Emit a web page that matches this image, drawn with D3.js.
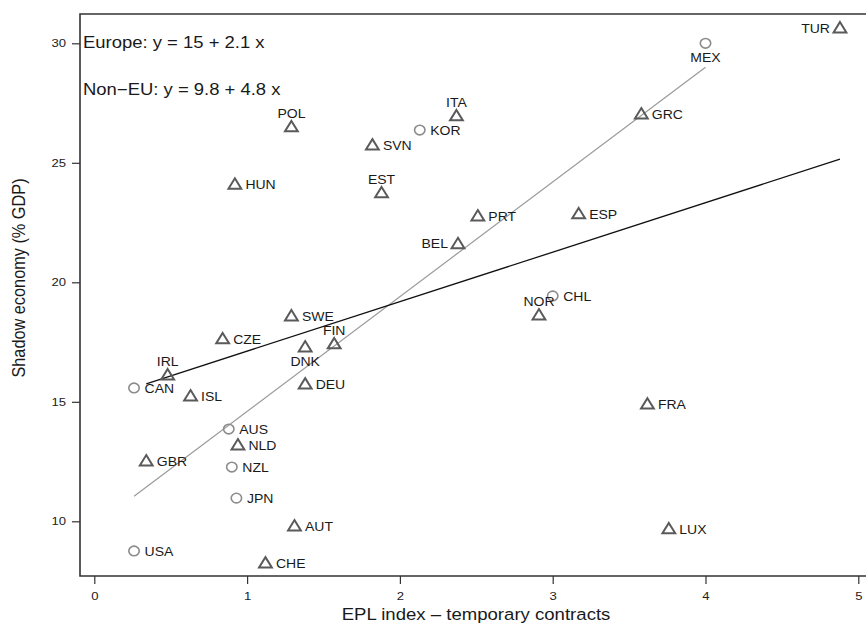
<!DOCTYPE html>
<html>
<head>
<meta charset="utf-8">
<title>Shadow economy vs EPL index</title>
<script src="https://d3js.org/d3.v7.min.js"></script>
<style>
  body { margin: 0; background: #fff; }
  svg { font-family: "Liberation Sans", Arial, sans-serif; }
</style>
</head>
<body>
<div id="chart"></div>
<script>
// data
var countries = ["TUR","MEX","ITA","KOR","POL","SVN","GRC","HUN","EST","PRT","ESP","BEL",
                 "CHL","NOR","SWE","CZE","FIN","DNK","IRL","CAN","DEU","ISL","FRA","AUS",
                 "NLD","GBR","NZL","JPN","AUT","LUX","USA","CHE"];
var eplIndex = [4.88,4.00,2.37,2.13,1.29,1.82,3.58,0.92,1.88,2.51,3.17,2.38,
                3.00,2.91,1.29,0.84,1.57,1.38,0.48,0.26,1.38,0.63,3.62,0.88,
                0.94,0.34,0.90,0.93,1.31,3.76,0.26,1.12];
var shadowEconomy = [30.64,30.0,26.96,26.37,26.5,25.74,27.04,24.1,23.74,22.77,22.86,21.61,
                     19.43,18.63,18.59,17.63,17.42,17.29,16.12,15.58,15.74,15.24,14.9,13.86,
                     13.19,12.52,12.27,10.97,9.8,9.68,8.76,8.25];
var nonEU = ["MEX","KOR","CHL","CAN","AUS","NZL","JPN","USA"];

var xTicks = [0, 1, 2, 3, 4, 5];
var yTicks = [10, 15, 20, 25, 30];

// fitted lines: intercept, slope, x-range
var fitEurope = { a: 15.05, b: 2.07, from: 0.34, to: 4.88 };
var fitNonEU = { a: 9.8, b: 4.8, from: 0.26, to: 4.0 };

// label placement around marker
var labelPos = { TUR: "left", MEX: "below", ITA: "above", POL: "above", EST: "above",
                 BEL: "left", NOR: "above", FIN: "above", DNK: "below", IRL: "above" };

var width = 866, height = 624;
var stretch = 1.14;   // the original figure is a bit wider than tall
var svg = d3.select("#chart").append("svg")
    .attr("width", width).attr("height", height);

var x = d3.scaleLinear().domain([0, 5]).range([94.3, 858.3]);
var y = d3.scaleLinear().domain([10, 30]).range([521.3, 43.3]);

var boxLeft = 80, boxTop = 14, boxBottom = 576, boxRight = 880;

function wideText(px, py, size, str) {
  return svg.append("text")
    .attr("transform", "translate(" + px + "," + py + ") scale(" + stretch + ",1)")
    .attr("font-size", size).attr("fill", "#1a1a1a").text(str);
}

// frame (right side runs out of the picture)
svg.append("path")
    .attr("d", "M" + boxRight + "," + boxTop + "H" + boxLeft + "V" + boxBottom + "H" + boxRight)
    .attr("fill", "none").attr("stroke", "#333").attr("stroke-width", 1.6);

// axes
var xAxis = svg.append("g")
    .attr("transform", "translate(0," + boxBottom + ")")
    .call(d3.axisBottom(x).tickValues(xTicks).tickFormat(d3.format("d")).tickSize(8).tickPadding(8));
var yAxis = svg.append("g")
    .attr("transform", "translate(" + boxLeft + ",0)")
    .call(d3.axisLeft(y).tickValues(yTicks).tickFormat(d3.format("d")).tickSize(8).tickPadding(6));
[xAxis, yAxis].forEach(function(g) {
  g.select(".domain").remove();
  g.selectAll("line").attr("stroke", "#333").attr("stroke-width", 1.2);
  g.selectAll("text").attr("font-size", 11.5).attr("fill", "#222")
    .attr("font-family", "Liberation Sans, Arial, sans-serif")
    .attr("transform", "scale(" + stretch + ",1)");
});
xAxis.selectAll(".tick text").attr("y", 16).attr("dy", "0.71em");
yAxis.selectAll("text").attr("x", -14 / stretch);

// axis titles
wideText(476, 620, 16.3, "EPL index \u2013 temporary contracts").attr("text-anchor", "middle");
svg.append("text")
    .attr("transform", "translate(25,278) rotate(-90) scale(1," + stretch + ")")
    .attr("text-anchor", "middle").attr("font-size", 16.3).attr("fill", "#1a1a1a")
    .text("Shadow economy (% GDP)");

// regression lines
function fitLine(f) {
  return d3.line()([[x(f.from), y(f.a + f.b * f.from)], [x(f.to), y(f.a + f.b * f.to)]]);
}
svg.append("path").attr("d", fitLine(fitNonEU))
    .attr("stroke", "#9a9a9a").attr("stroke-width", 1.2).attr("fill", "none");
svg.append("path").attr("d", fitLine(fitEurope))
    .attr("stroke", "#111").attr("stroke-width", 1.3).attr("fill", "none");

// legend text
wideText(83, 48, 16.2, "Europe: y = 15 + 2.1 x");
wideText(83, 95, 16.2, "Non\u2212EU: y = 9.8 + 4.8 x");

// points
var pts = countries.map(function(c, i) {
  return { name: c, ex: eplIndex[i], se: shadowEconomy[i], nonEU: nonEU.indexOf(c) >= 0 };
});

var tri = "M0,-6L6.4,4.4L-6.4,4.4Z";
var g = svg.selectAll(".pt").data(pts).enter().append("g")
    .attr("transform", function(d) { return "translate(" + x(d.ex) + "," + y(d.se) + ")"; });

g.filter(function(d) { return d.nonEU; }).append("ellipse")
    .attr("rx", 5.2).attr("ry", 4.8).attr("fill", "none").attr("stroke", "#8c8c8c").attr("stroke-width", 1.6);
g.filter(function(d) { return !d.nonEU; }).append("path")
    .attr("d", tri).attr("fill", "none").attr("stroke", "#5a5a5a").attr("stroke-width", 2);

g.append("text")
    .attr("font-size", 12.3).attr("fill", "#1a1a1a")
    .attr("text-anchor", function(d) {
      var p = labelPos[d.name] || "right";
      return p === "right" ? "start" : p === "left" ? "end" : "middle";
    })
    .attr("transform", function(d) {
      var p = labelPos[d.name] || "right";
      var dx = p === "right" ? 10.5 : p === "left" ? -10 : 0;
      var dy = p === "above" ? -9 : p === "below" ? 19 : 4.6;
      return "translate(" + dx + "," + dy + ") scale(" + stretch + ",1)";
    })
    .text(function(d) { return d.name; });
</script>
</body>
</html>
